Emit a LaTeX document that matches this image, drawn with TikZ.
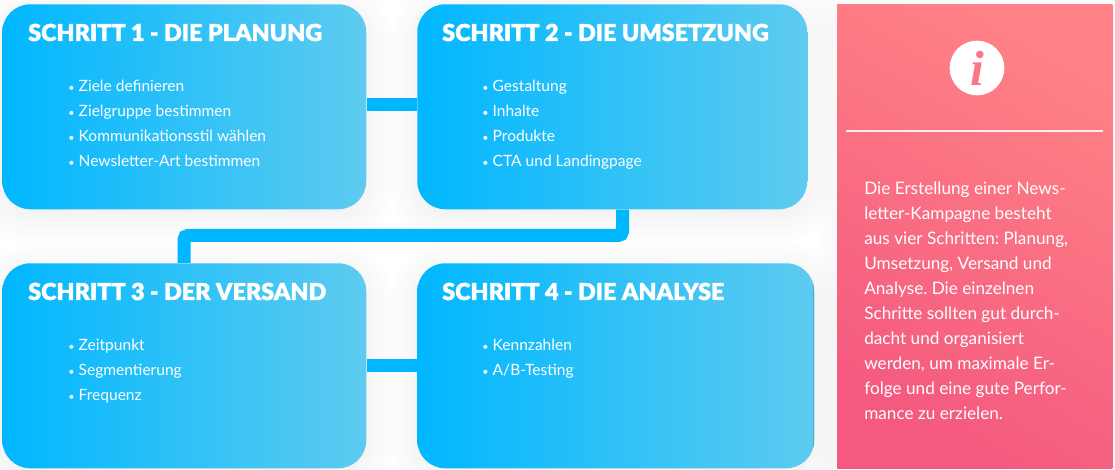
\documentclass[tikz,border=0pt]{standalone}
\usepackage{fontspec}
\setmainfont{Lato}
\newfontfamily\titelfont[FakeBold=1.4]{Lato Black}
\newfontfamily\iconfont{Liberation Serif}
\usetikzlibrary{shadows.blur}
\definecolor{blauL}{HTML}{00B7FF}
\definecolor{blauR}{HTML}{5ECBEF}
\definecolor{rotU}{HTML}{F4597F}
\definecolor{rotO}{HTML}{FF8286}
\tikzset{
  kasten/.style={anchor=north west,inner sep=0pt,rounded corners=21pt,left color=blauL,right color=blauR,
    minimum height=153.75pt,blur shadow={shadow xshift=0pt,shadow yshift=-5pt,shadow blur radius=22pt,shadow blur steps=16,shadow opacity=8}},
  titel/.style={anchor=base west,inner sep=0pt,text=white,font=\titelfont\fontsize{17.5}{20}\selectfont},
  punkte/.style={anchor=north west,inner sep=0pt,nodes={anchor=base west,inner sep=0pt,text=white,text height=12pt,text depth=6.75pt,font=\fontsize{11.65}{14}\selectfont}},
  linie/.style={draw=blauL,line width=9.75pt,rounded corners=3pt}
}
\newcommand{\punkt}{{\fontsize{8}{8}\selectfont•}\hspace{3.2pt}}
\frenchspacing
\begin{document}
\begin{tikzpicture}[x=.75pt,y=-.75pt]
\useasboundingbox (0,0) rectangle (1115,470);

\node[kasten,minimum width=273pt] (schritt1) at (2,4) {};
\node[kasten,minimum width=292.5pt] (schritt2) at (417,4) {};
\node[kasten,minimum width=273pt] (schritt3) at (2,263) {};
\node[kasten,minimum width=297.75pt] (schritt4) at (417,263) {};

\coordinate (knick2) at (622.5,235.5);
\coordinate (knick3) at (184,235.5);
\draw[linie] ([yshift=1.5pt]schritt1.east) -- ([yshift=1.5pt]schritt2.west);
\draw[linie] (knick2 |- schritt2.south) -- (knick2) -- (knick3) -- (knick3 |- schritt3.north);
\draw[linie] (schritt3.east) -- (schritt4.west);

\node[titel] (titel1) at (28,41) {SCHRITT 1 - DIE PLANUNG};
\node[titel] (titel2) at (442,41) {SCHRITT 2 - DIE UMSETZUNG};
\node[titel] (titel3) at (28,300) {SCHRITT 3 - DER VERSAND};
\node[titel] (titel4) at (442,300) {SCHRITT 4 - DIE ANALYSE};

\matrix (liste1) [punkte] at (68,75)
  {
    \node {\punkt Ziele definieren}; \\
    \node {\punkt Zielgruppe bestimmen}; \\
    \node {\punkt Kommunikationsstil wählen}; \\
    \node {\punkt Newsletter-Art bestimmen}; \\
  };
\matrix (liste2) [punkte] at (482,75)
  {
    \node {\punkt Gestaltung}; \\
    \node {\punkt Inhalte}; \\
    \node {\punkt Produkte}; \\
    \node {\punkt CTA und Landingpage}; \\
  };
\matrix (liste3) [punkte] at (68,334)
  {
    \node {\punkt Zeitpunkt}; \\
    \node {\punkt Segmentierung}; \\
    \node {\punkt Frequenz}; \\
  };
\matrix (liste4) [punkte] at (482,334)
  {
    \node {\punkt Kennzahlen}; \\
    \node {\punkt A/B-Testing}; \\
  };

% rechte Spalte
\node[anchor=north west,inner sep=0pt,minimum width=206.25pt,minimum height=348pt,shading=axis,bottom color=rotU,top color=rotO,shading angle=-30,
  blur shadow={shadow xshift=0pt,shadow yshift=-3pt,shadow blur radius=18pt,shadow blur steps=16,shadow opacity=6}] (info) at (837,4) {};
\node[circle,fill=white,inner sep=0pt,minimum size=41pt,text=rotO!70!rotU,font=\iconfont\fontsize{37}{37}\selectfont\bfseries\itshape] (icon) at (977,68) {i};
\coordinate (strichL) at (846,131);
\coordinate (strichR) at (1103,131);
\draw[white,line width=.9pt,opacity=.85] (strichL) -- (strichR);
\node[anchor=north west,inner sep=0pt,text=white,align=left,font=\fontsize{12.9}{18.75}\selectfont] (infotext) at (864,181.5)
  {Die Erstellung einer News-\\letter-Kampagne besteht\\aus vier Schritten: Planung,\\Umsetzung, Versand und\\Analyse. Die einzelnen\\Schritte sollten gut durch-\\dacht und organisiert\\werden, um maximale Er-\\folge und eine gute Perfor-\\mance zu erzielen.};
\end{tikzpicture}
\end{document}
